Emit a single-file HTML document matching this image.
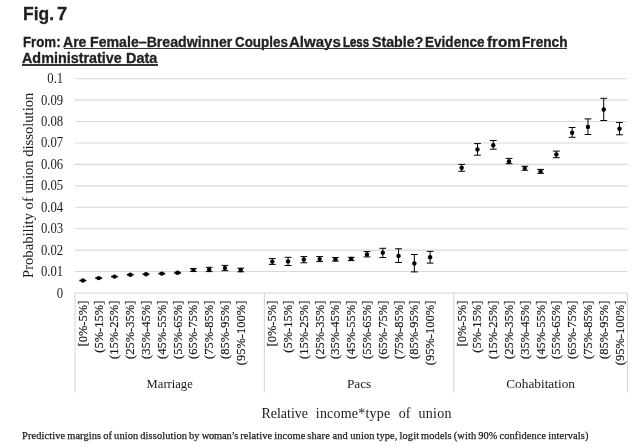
<!DOCTYPE html>
<html lang="en">
<head>
<meta charset="utf-8">
<title>Fig. 7</title>
<style>
html,body{margin:0;padding:0;background:#fff;}
body{width:640px;height:447px;position:relative;overflow:hidden;font-family:"Liberation Sans",sans-serif;color:#222;}
h1,.from{margin:0;font-size:0;font-weight:bold;}
.w{position:absolute;white-space:nowrap;line-height:1;font-weight:bold;transform-origin:0 0;color:#222;display:block;-webkit-text-stroke:0.3px #222;}
.f18{font-size:18.8px;}
.f14{font-size:14.5px;}
.from a{color:#222;text-decoration:none;}
.ul{position:absolute;height:1.3px;background:#333;}
.cap{position:absolute;white-space:nowrap;line-height:1;font-family:"Liberation Serif",serif;font-size:10.4px;left:22px;top:430.5px;color:#222;letter-spacing:0.112px;word-spacing:-0.75px;-webkit-text-stroke:0.25px #222;}
</style>
</head>
<body>
<h1><span class="w f18" style="left:22.8px;top:5.0px;transform:scaleX(0.93);">Fig.</span> <span class="w f18" style="left:57.4px;top:5.0px;transform:scaleX(0.972);">7</span></h1>
<div class="from"><span class="w f14" style="left:22.9px;top:35.35px;transform:scaleX(0.915);">From:</span> <a><span class="w f14" style="left:63.27px;top:35.35px;transform:scaleX(0.968);">Are</span> <span class="w f14" style="left:89.77px;top:35.35px;transform:scaleX(0.976);">Female–Breadwinner</span> <span class="w f14" style="left:235.29px;top:35.35px;transform:scaleX(0.924);">Couples</span> <span class="w f14" style="left:289.48px;top:35.35px;transform:scaleX(1.036);">Always</span> <span class="w f14" style="left:342.71px;top:35.35px;transform:scaleX(0.786);-webkit-text-stroke-width:0.55px;">Less</span> <span class="w f14" style="left:371.51px;top:35.35px;transform:scaleX(0.98);">Stable?</span> <span class="w f14" style="left:425.31px;top:35.35px;transform:scaleX(0.936);">Evidence</span> <span class="w f14" style="left:486.74px;top:35.35px;transform:scaleX(1.048);">from</span> <span class="w f14" style="left:522.31px;top:35.35px;transform:scaleX(0.941);">French</span> <span class="w f14" style="left:22.01px;top:51.45px;transform:scaleX(0.99);">Administrative</span> <span class="w f14" style="left:125.76px;top:51.45px;transform:scaleX(0.992);">Data</span></a></div>
<div class="ul" style="left:63.75px;top:48.1px;width:503.5px"></div>
<div class="ul" style="left:22.3px;top:64.4px;width:135.5px"></div>
<svg width="640" height="447" viewBox="0 0 640 447" style="position:absolute;left:0;top:0" font-family="'Liberation Serif', serif" fill="#1a1a1a">
<line x1="75.0" x2="627.4" y1="271.57" y2="271.57" stroke="#d7d7d7" stroke-width="1.1"/>
<line x1="75.0" x2="627.4" y1="250.14" y2="250.14" stroke="#d7d7d7" stroke-width="1.1"/>
<line x1="75.0" x2="627.4" y1="228.71" y2="228.71" stroke="#d7d7d7" stroke-width="1.1"/>
<line x1="75.0" x2="627.4" y1="207.28" y2="207.28" stroke="#d7d7d7" stroke-width="1.1"/>
<line x1="75.0" x2="627.4" y1="185.85" y2="185.85" stroke="#d7d7d7" stroke-width="1.1"/>
<line x1="75.0" x2="627.4" y1="164.42" y2="164.42" stroke="#d7d7d7" stroke-width="1.1"/>
<line x1="75.0" x2="627.4" y1="142.99" y2="142.99" stroke="#d7d7d7" stroke-width="1.1"/>
<line x1="75.0" x2="627.4" y1="121.56" y2="121.56" stroke="#d7d7d7" stroke-width="1.1"/>
<line x1="75.0" x2="627.4" y1="100.13" y2="100.13" stroke="#d7d7d7" stroke-width="1.1"/>
<line x1="75.0" x2="627.4" y1="78.70" y2="78.70" stroke="#d7d7d7" stroke-width="1.1"/>
<line x1="75.0" x2="627.4" y1="293.00" y2="293.00" stroke="#d4d4d4" stroke-width="1"/>
<line x1="75.00" x2="75.00" y1="293.00" y2="392.5" stroke="#d4d4d4" stroke-width="1"/>
<line x1="264.39" x2="264.39" y1="293.00" y2="392.5" stroke="#d4d4d4" stroke-width="1"/>
<line x1="453.79" x2="453.79" y1="293.00" y2="392.5" stroke="#d4d4d4" stroke-width="1"/>
<line x1="627.40" x2="627.40" y1="293.00" y2="392.5" stroke="#d4d4d4" stroke-width="1"/>
<text transform="translate(63.2,298.00) scale(0.91,1)" font-size="14" text-anchor="end">0</text>
<text transform="translate(63.2,276.02) scale(0.91,1)" font-size="14" text-anchor="end">0.01</text>
<text transform="translate(63.2,254.59) scale(0.91,1)" font-size="14" text-anchor="end">0.02</text>
<text transform="translate(63.2,233.16) scale(0.91,1)" font-size="14" text-anchor="end">0.03</text>
<text transform="translate(63.2,211.73) scale(0.91,1)" font-size="14" text-anchor="end">0.04</text>
<text transform="translate(63.2,190.30) scale(0.91,1)" font-size="14" text-anchor="end">0.05</text>
<text transform="translate(63.2,168.87) scale(0.91,1)" font-size="14" text-anchor="end">0.06</text>
<text transform="translate(63.2,147.44) scale(0.91,1)" font-size="14" text-anchor="end">0.07</text>
<text transform="translate(63.2,126.01) scale(0.91,1)" font-size="14" text-anchor="end">0.08</text>
<text transform="translate(63.2,104.58) scale(0.91,1)" font-size="14" text-anchor="end">0.09</text>
<text transform="translate(63.2,83.15) scale(0.91,1)" font-size="14" text-anchor="end">0.1</text>
<text transform="translate(33.4,185.3) rotate(-90) scale(1,1.07)" font-size="14.6" text-anchor="middle">Probability of union dissolution</text>
<path d="M82.89 280.20V280.80M79.49 280.20H86.29M79.49 280.80H86.29" stroke="#000" stroke-width="1" fill="none"/>
<circle cx="82.89" cy="280.50" r="2.2" fill="#000"/>
<text transform="translate(86.89,300.7) rotate(-90) scale(0.933,1)" font-size="13.4" text-anchor="end" stroke="#1a1a1a" stroke-width="0.2">[0%-5%]</text>
<path d="M98.67 277.80V278.40M95.27 277.80H102.07M95.27 278.40H102.07" stroke="#000" stroke-width="1" fill="none"/>
<circle cx="98.67" cy="278.10" r="2.2" fill="#000"/>
<text transform="translate(102.67,300.7) rotate(-90) scale(0.933,1)" font-size="13.4" text-anchor="end" stroke="#1a1a1a" stroke-width="0.2">(5%-15%]</text>
<path d="M114.46 276.30V276.90M111.06 276.30H117.86M111.06 276.90H117.86" stroke="#000" stroke-width="1" fill="none"/>
<circle cx="114.46" cy="276.60" r="2.2" fill="#000"/>
<text transform="translate(118.46,300.7) rotate(-90) scale(0.933,1)" font-size="13.4" text-anchor="end" stroke="#1a1a1a" stroke-width="0.2">(15%-25%]</text>
<path d="M130.24 274.40V275.00M126.84 274.40H133.64M126.84 275.00H133.64" stroke="#000" stroke-width="1" fill="none"/>
<circle cx="130.24" cy="274.70" r="2.2" fill="#000"/>
<text transform="translate(134.24,300.7) rotate(-90) scale(0.933,1)" font-size="13.4" text-anchor="end" stroke="#1a1a1a" stroke-width="0.2">(25%-35%]</text>
<path d="M146.02 273.90V274.50M142.62 273.90H149.42M142.62 274.50H149.42" stroke="#000" stroke-width="1" fill="none"/>
<circle cx="146.02" cy="274.20" r="2.2" fill="#000"/>
<text transform="translate(150.02,300.7) rotate(-90) scale(0.933,1)" font-size="13.4" text-anchor="end" stroke="#1a1a1a" stroke-width="0.2">(35%-45%]</text>
<path d="M161.81 273.20V274.00M158.41 273.20H165.21M158.41 274.00H165.21" stroke="#000" stroke-width="1" fill="none"/>
<circle cx="161.81" cy="273.60" r="2.2" fill="#000"/>
<text transform="translate(165.81,300.7) rotate(-90) scale(0.933,1)" font-size="13.4" text-anchor="end" stroke="#1a1a1a" stroke-width="0.2">(45%-55%]</text>
<path d="M177.59 272.30V273.30M174.19 272.30H180.99M174.19 273.30H180.99" stroke="#000" stroke-width="1" fill="none"/>
<circle cx="177.59" cy="272.80" r="2.2" fill="#000"/>
<text transform="translate(181.59,300.7) rotate(-90) scale(0.933,1)" font-size="13.4" text-anchor="end" stroke="#1a1a1a" stroke-width="0.2">(55%-65%]</text>
<path d="M193.37 268.60V271.40M189.97 268.60H196.77M189.97 271.40H196.77" stroke="#000" stroke-width="1" fill="none"/>
<circle cx="193.37" cy="270.00" r="2.2" fill="#000"/>
<text transform="translate(197.37,300.7) rotate(-90) scale(0.933,1)" font-size="13.4" text-anchor="end" stroke="#1a1a1a" stroke-width="0.2">(65%-75%]</text>
<path d="M209.15 267.30V271.60M205.75 267.30H212.55M205.75 271.60H212.55" stroke="#000" stroke-width="1" fill="none"/>
<circle cx="209.15" cy="269.50" r="2.2" fill="#000"/>
<text transform="translate(213.15,300.7) rotate(-90) scale(0.933,1)" font-size="13.4" text-anchor="end" stroke="#1a1a1a" stroke-width="0.2">(75%-85%]</text>
<path d="M224.94 265.40V270.70M221.54 265.40H228.34M221.54 270.70H228.34" stroke="#000" stroke-width="1" fill="none"/>
<circle cx="224.94" cy="268.10" r="2.2" fill="#000"/>
<text transform="translate(228.94,300.7) rotate(-90) scale(0.933,1)" font-size="13.4" text-anchor="end" stroke="#1a1a1a" stroke-width="0.2">(85%-95%]</text>
<path d="M240.72 268.20V271.80M237.32 268.20H244.12M237.32 271.80H244.12" stroke="#000" stroke-width="1" fill="none"/>
<circle cx="240.72" cy="270.00" r="2.2" fill="#000"/>
<text transform="translate(244.72,300.7) rotate(-90) scale(0.933,1)" font-size="13.4" text-anchor="end" stroke="#1a1a1a" stroke-width="0.2">(95%-100%]</text>
<path d="M272.29 258.60V264.40M268.89 258.60H275.69M268.89 264.40H275.69" stroke="#000" stroke-width="1" fill="none"/>
<circle cx="272.29" cy="261.60" r="2.2" fill="#000"/>
<text transform="translate(276.29,300.7) rotate(-90) scale(0.933,1)" font-size="13.4" text-anchor="end" stroke="#1a1a1a" stroke-width="0.2">[0%-5%]</text>
<path d="M288.07 257.30V265.50M284.67 257.30H291.47M284.67 265.50H291.47" stroke="#000" stroke-width="1" fill="none"/>
<circle cx="288.07" cy="261.40" r="2.2" fill="#000"/>
<text transform="translate(292.07,300.7) rotate(-90) scale(0.933,1)" font-size="13.4" text-anchor="end" stroke="#1a1a1a" stroke-width="0.2">(5%-15%]</text>
<path d="M303.85 256.60V262.80M300.45 256.60H307.25M300.45 262.80H307.25" stroke="#000" stroke-width="1" fill="none"/>
<circle cx="303.85" cy="259.50" r="2.2" fill="#000"/>
<text transform="translate(307.85,300.7) rotate(-90) scale(0.933,1)" font-size="13.4" text-anchor="end" stroke="#1a1a1a" stroke-width="0.2">(15%-25%]</text>
<path d="M319.63 256.60V261.60M316.23 256.60H323.03M316.23 261.60H323.03" stroke="#000" stroke-width="1" fill="none"/>
<circle cx="319.63" cy="259.10" r="2.2" fill="#000"/>
<text transform="translate(323.63,300.7) rotate(-90) scale(0.933,1)" font-size="13.4" text-anchor="end" stroke="#1a1a1a" stroke-width="0.2">(25%-35%]</text>
<path d="M335.42 257.50V261.10M332.02 257.50H338.82M332.02 261.10H338.82" stroke="#000" stroke-width="1" fill="none"/>
<circle cx="335.42" cy="259.20" r="2.2" fill="#000"/>
<text transform="translate(339.42,300.7) rotate(-90) scale(0.933,1)" font-size="13.4" text-anchor="end" stroke="#1a1a1a" stroke-width="0.2">(35%-45%]</text>
<path d="M351.20 257.30V260.60M347.80 257.30H354.60M347.80 260.60H354.60" stroke="#000" stroke-width="1" fill="none"/>
<circle cx="351.20" cy="258.90" r="2.2" fill="#000"/>
<text transform="translate(355.20,300.7) rotate(-90) scale(0.933,1)" font-size="13.4" text-anchor="end" stroke="#1a1a1a" stroke-width="0.2">(45%-55%]</text>
<path d="M366.98 251.60V256.90M363.58 251.60H370.38M363.58 256.90H370.38" stroke="#000" stroke-width="1" fill="none"/>
<circle cx="366.98" cy="254.40" r="2.2" fill="#000"/>
<text transform="translate(370.98,300.7) rotate(-90) scale(0.933,1)" font-size="13.4" text-anchor="end" stroke="#1a1a1a" stroke-width="0.2">(55%-65%]</text>
<path d="M382.77 248.30V257.50M379.37 248.30H386.17M379.37 257.50H386.17" stroke="#000" stroke-width="1" fill="none"/>
<circle cx="382.77" cy="252.80" r="2.2" fill="#000"/>
<text transform="translate(386.77,300.7) rotate(-90) scale(0.933,1)" font-size="13.4" text-anchor="end" stroke="#1a1a1a" stroke-width="0.2">(65%-75%]</text>
<path d="M398.55 248.75V262.50M395.15 248.75H401.95M395.15 262.50H401.95" stroke="#000" stroke-width="1" fill="none"/>
<circle cx="398.55" cy="255.90" r="2.2" fill="#000"/>
<text transform="translate(402.55,300.7) rotate(-90) scale(0.933,1)" font-size="13.4" text-anchor="end" stroke="#1a1a1a" stroke-width="0.2">(75%-85%]</text>
<path d="M414.33 254.50V271.90M410.93 254.50H417.73M410.93 271.90H417.73" stroke="#000" stroke-width="1" fill="none"/>
<circle cx="414.33" cy="263.40" r="2.2" fill="#000"/>
<text transform="translate(418.33,300.7) rotate(-90) scale(0.933,1)" font-size="13.4" text-anchor="end" stroke="#1a1a1a" stroke-width="0.2">(85%-95%]</text>
<path d="M430.11 251.40V263.10M426.71 251.40H433.51M426.71 263.10H433.51" stroke="#000" stroke-width="1" fill="none"/>
<circle cx="430.11" cy="257.30" r="2.2" fill="#000"/>
<text transform="translate(434.11,300.7) rotate(-90) scale(0.933,1)" font-size="13.4" text-anchor="end" stroke="#1a1a1a" stroke-width="0.2">(95%-100%]</text>
<path d="M461.68 164.40V171.25M458.28 164.40H465.08M458.28 171.25H465.08" stroke="#000" stroke-width="1" fill="none"/>
<circle cx="461.68" cy="167.80" r="2.2" fill="#000"/>
<text transform="translate(465.68,300.7) rotate(-90) scale(0.933,1)" font-size="13.4" text-anchor="end" stroke="#1a1a1a" stroke-width="0.2">[0%-5%]</text>
<path d="M477.46 143.60V155.20M474.06 143.60H480.86M474.06 155.20H480.86" stroke="#000" stroke-width="1" fill="none"/>
<circle cx="477.46" cy="149.40" r="2.2" fill="#000"/>
<text transform="translate(481.46,300.7) rotate(-90) scale(0.933,1)" font-size="13.4" text-anchor="end" stroke="#1a1a1a" stroke-width="0.2">(5%-15%]</text>
<path d="M493.25 140.50V149.20M489.85 140.50H496.65M489.85 149.20H496.65" stroke="#000" stroke-width="1" fill="none"/>
<circle cx="493.25" cy="145.20" r="2.2" fill="#000"/>
<text transform="translate(497.25,300.7) rotate(-90) scale(0.933,1)" font-size="13.4" text-anchor="end" stroke="#1a1a1a" stroke-width="0.2">(15%-25%]</text>
<path d="M509.03 158.40V163.75M505.63 158.40H512.43M505.63 163.75H512.43" stroke="#000" stroke-width="1" fill="none"/>
<circle cx="509.03" cy="161.40" r="2.2" fill="#000"/>
<text transform="translate(513.03,300.7) rotate(-90) scale(0.933,1)" font-size="13.4" text-anchor="end" stroke="#1a1a1a" stroke-width="0.2">(25%-35%]</text>
<path d="M524.81 166.25V170.30M521.41 166.25H528.21M521.41 170.30H528.21" stroke="#000" stroke-width="1" fill="none"/>
<circle cx="524.81" cy="168.10" r="2.2" fill="#000"/>
<text transform="translate(528.81,300.7) rotate(-90) scale(0.933,1)" font-size="13.4" text-anchor="end" stroke="#1a1a1a" stroke-width="0.2">(35%-45%]</text>
<path d="M540.59 169.40V173.30M537.19 169.40H543.99M537.19 173.30H543.99" stroke="#000" stroke-width="1" fill="none"/>
<circle cx="540.59" cy="171.40" r="2.2" fill="#000"/>
<text transform="translate(544.59,300.7) rotate(-90) scale(0.933,1)" font-size="13.4" text-anchor="end" stroke="#1a1a1a" stroke-width="0.2">(45%-55%]</text>
<path d="M556.38 151.10V157.70M552.98 151.10H559.78M552.98 157.70H559.78" stroke="#000" stroke-width="1" fill="none"/>
<circle cx="556.38" cy="154.40" r="2.2" fill="#000"/>
<text transform="translate(560.38,300.7) rotate(-90) scale(0.933,1)" font-size="13.4" text-anchor="end" stroke="#1a1a1a" stroke-width="0.2">(55%-65%]</text>
<path d="M572.16 127.50V137.30M568.76 127.50H575.56M568.76 137.30H575.56" stroke="#000" stroke-width="1" fill="none"/>
<circle cx="572.16" cy="132.70" r="2.2" fill="#000"/>
<text transform="translate(576.16,300.7) rotate(-90) scale(0.933,1)" font-size="13.4" text-anchor="end" stroke="#1a1a1a" stroke-width="0.2">(65%-75%]</text>
<path d="M587.94 118.90V134.50M584.54 118.90H591.34M584.54 134.50H591.34" stroke="#000" stroke-width="1" fill="none"/>
<circle cx="587.94" cy="126.90" r="2.2" fill="#000"/>
<text transform="translate(591.94,300.7) rotate(-90) scale(0.933,1)" font-size="13.4" text-anchor="end" stroke="#1a1a1a" stroke-width="0.2">(75%-85%]</text>
<path d="M603.73 98.30V120.50M600.33 98.30H607.13M600.33 120.50H607.13" stroke="#000" stroke-width="1" fill="none"/>
<circle cx="603.73" cy="109.50" r="2.2" fill="#000"/>
<text transform="translate(607.73,300.7) rotate(-90) scale(0.933,1)" font-size="13.4" text-anchor="end" stroke="#1a1a1a" stroke-width="0.2">(85%-95%]</text>
<path d="M619.51 122.50V134.80M616.11 122.50H622.91M616.11 134.80H622.91" stroke="#000" stroke-width="1" fill="none"/>
<circle cx="619.51" cy="128.75" r="2.2" fill="#000"/>
<text transform="translate(623.51,300.7) rotate(-90) scale(0.933,1)" font-size="13.4" text-anchor="end" stroke="#1a1a1a" stroke-width="0.2">(95%-100%]</text>
<text x="169.70" y="388.3" font-size="12.6" text-anchor="middle">Marriage</text>
<text x="359.09" y="388.3" font-size="13.3" text-anchor="middle">Pacs</text>
<text x="540.59" y="388.3" font-size="13.3" text-anchor="middle">Cohabitation</text>
<text y="418.3" font-size="14"><tspan x="261.4">Relative</tspan> <tspan x="315.8" letter-spacing="0.2">income*type</tspan> <tspan x="398.64">of</tspan> <tspan x="418.4" letter-spacing="0.3">union</tspan></text>
</svg>
<div class="cap">Predictive margins of union dissolution by <span style="letter-spacing:-0.14px">woman’s</span> relative income share <span style="margin-left:0.6px">and</span> <span style="margin-left:0.6px">union</span> type, logit models (with 90% confidence intervals)</div>
</body>
</html>
